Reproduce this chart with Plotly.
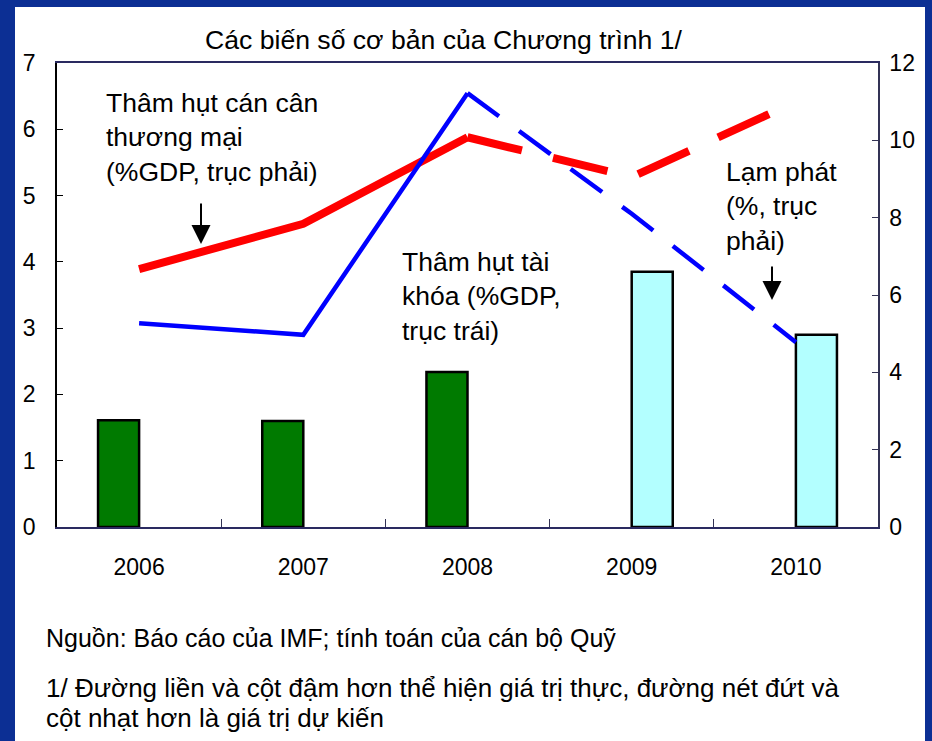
import plotly.graph_objects as go

# ---- data ----
years = ["2006", "2007", "2008", "2009", "2010"]
fiscal_actual = [1.61, 1.60, 2.34, None, None]      # % GDP, left axis
fiscal_proj = [None, None, None, 3.85, 2.90]
trade_actual = [6.67, 7.84, 10.08, None, None]       # % GDP, right axis
trade_proj = [None, None, 10.08, 9.05, 11.0]
infl_actual = [5.27, 4.97, 11.22, None, None]        # %, right axis
infl_proj = [None, None, 11.22, 8.1, 4.78]
left_ticks = [0, 1, 2, 3, 4, 5, 6, 7]
right_ticks = [0, 2, 4, 6, 8, 10, 12]

W, H = 932, 741
L, R, T, B = 57, 878, 63, 527
FONT = "Arial, Liberation Sans, Helvetica, sans-serif"


def X(px):
    return (px - L) / (R - L)


def Y(py):
    return (B - py) / (B - T)


fig = go.Figure()
fig.add_trace(go.Bar(x=years, y=fiscal_actual, marker=dict(color="#007a00", line=dict(color="black", width=2.5)),
                     yaxis="y", showlegend=False))
fig.add_trace(go.Bar(x=years, y=fiscal_proj, marker=dict(color="#b3ffff", line=dict(color="black", width=2.5)),
                     yaxis="y", showlegend=False))
fig.add_trace(go.Scatter(x=years, y=trade_actual, mode="lines", line=dict(color="#ff0000", width=8),
                         yaxis="y2", showlegend=False))
fig.add_trace(go.Scatter(x=years, y=trade_proj, mode="lines", line=dict(color="#ff0000", width=8, dash="56px,32px"),
                         yaxis="y2", showlegend=False))
fig.add_trace(go.Scatter(x=years, y=infl_actual, mode="lines", line=dict(color="#0000ff", width=4.5),
                         yaxis="y2", showlegend=False))
fig.add_trace(go.Scatter(x=years, y=infl_proj, mode="lines", line=dict(color="#0000ff", width=4.5, dash="39px,25px"),
                         yaxis="y2", showlegend=False))

ann = []
ann.append(dict(text="Các biến số cơ bản của Chương trình 1/", x=X(444), y=Y(40), xanchor="center", yanchor="middle",
                font=dict(size=26.6)))
ann.append(dict(text="Thâm hụt cán cân<br>thương mại<br>(%GDP, trục phải)", x=X(104), y=Y(137), xanchor="left",
                yanchor="middle", align="left", font=dict(size=26.5)))
ann.append(dict(text="Thâm hụt tài<br>khóa (%GDP,<br>trục trái)", x=X(400), y=Y(296), xanchor="left",
                yanchor="middle", align="left", font=dict(size=26.5)))
ann.append(dict(text="Lạm phát<br>(%, trục<br>phải)", x=X(724), y=Y(206), xanchor="left",
                yanchor="middle", align="left", font=dict(size=26.5)))
ann.append(dict(text="Nguồn: Báo cáo của IMF; tính toán của cán bộ Quỹ", x=X(44), y=Y(638), xanchor="left",
                yanchor="middle", align="left", font=dict(size=25)))
ann.append(dict(text="1/ Đường liền và cột đậm hơn thể hiện giá trị thực, đường nét đứt và",
                x=X(44), y=Y(688), xanchor="left", yanchor="middle", align="left", font=dict(size=26)))
ann.append(dict(text="cột nhạt hơn là giá trị dự kiến",
                x=X(44), y=Y(718), xanchor="left", yanchor="middle", align="left", font=dict(size=26)))
for a in ann:
    a.update(xref="paper", yref="paper", showarrow=False)
    a["font"].update(family=FONT, color="black")

# arrows
ann.append(dict(x=X(201), y=Y(244), ax=0, ay=-42, xref="paper", yref="paper", showarrow=True, text="",
                arrowhead=2, arrowsize=1.9, arrowwidth=2, arrowcolor="black"))
ann.append(dict(x=X(772), y=Y(300), ax=0, ay=-35, xref="paper", yref="paper", showarrow=True, text="",
                arrowhead=2, arrowsize=1.9, arrowwidth=2, arrowcolor="black"))

navy = "#0c2f94"
shapes = [
    dict(type="rect", xref="paper", yref="paper", x0=X(-5), x1=X(15), y0=Y(760), y1=Y(-5), fillcolor=navy, line=dict(width=0)),
    dict(type="rect", xref="paper", yref="paper", x0=X(-5), x1=X(940), y0=Y(7), y1=Y(-5), fillcolor=navy, line=dict(width=0)),
    dict(type="rect", xref="paper", yref="paper", x0=X(925), x1=X(940), y0=Y(760), y1=Y(-5), fillcolor=navy, line=dict(width=0)),
]

fig.update_layout(
    width=W, height=H,
    margin=dict(l=L, r=W - R, t=T, b=H - B, pad=0),
    paper_bgcolor="white", plot_bgcolor="white",
    barmode="group", bargap=0.5, bargroupgap=0,
    font=dict(family=FONT, color="black", size=23),
    annotations=ann, shapes=shapes,
    xaxis=dict(type="category", tickson="boundaries", ticks="inside", ticklen=8, tickcolor="#333355",
               showline=True, linecolor="#2a2a60", linewidth=1.5, mirror=True, showgrid=False,
               tickfont=dict(size=23), ticklabelstandoff=19),
    yaxis=dict(range=[0, 7], tickvals=left_ticks, ticks="inside", ticklen=6, tickcolor="black",
               showline=True, linecolor="black", linewidth=1.5, showgrid=False, zeroline=False,
               tickfont=dict(size=23), ticklabelstandoff=15),
    yaxis2=dict(range=[0, 12], tickvals=right_ticks, ticks="inside", ticklen=6, tickcolor="#333355",
                overlaying="y", side="right", showline=True, linecolor="#333355", linewidth=1.5,
                showgrid=False, zeroline=False, tickfont=dict(size=23), ticklabelstandoff=5),
)

fig.write_html("out.html", config={"displayModeBar": False},
               post_script="document.body.style.margin='0';document.body.style.overflow='hidden';")
